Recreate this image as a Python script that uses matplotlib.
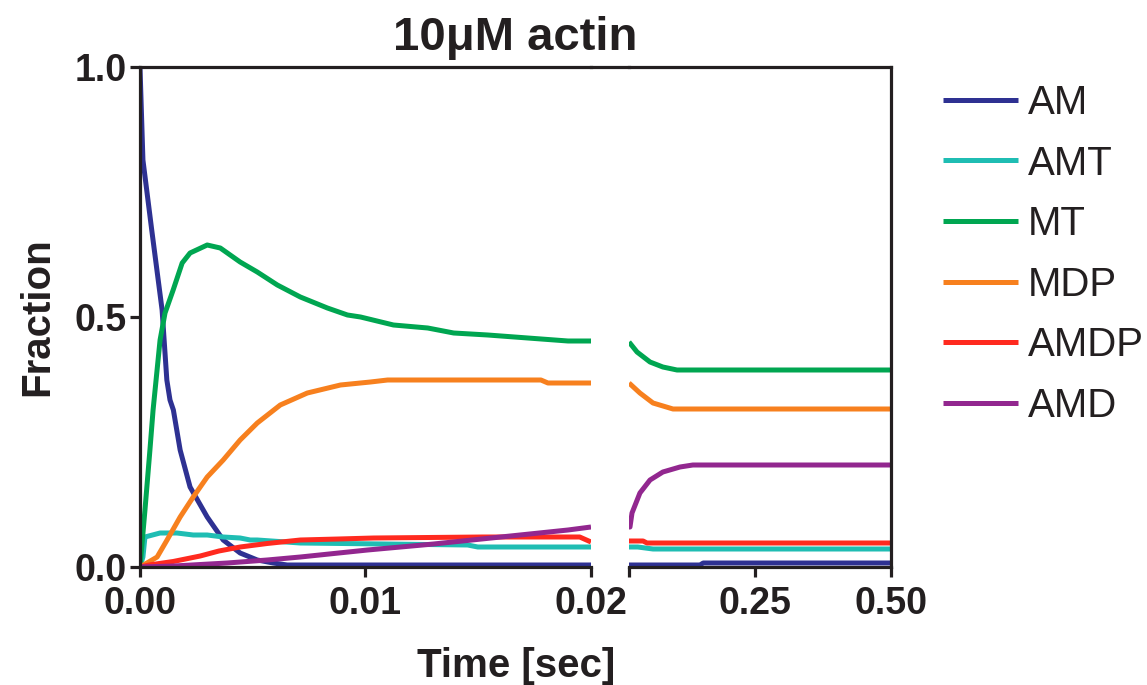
import matplotlib
matplotlib.use("Agg")
import matplotlib.pyplot as plt
from matplotlib.lines import Line2D

plt.rcParams['font.family'] = ['Liberation Sans', 'DejaVu Sans']

# ---------------- data ----------------
series_names = ["AM", "AMT", "MT", "MDP", "AMDP", "AMD"]
series_colors = ["#2E3192", "#1FBDB3", "#00A651", "#F7801E", "#FF2A1F", "#92278F"]

# left segment (0 - 0.02 s)
am_t_left = [0, 0.00013, 0.00052, 0.00098, 0.00119, 0.00133, 0.00148, 0.00178, 0.00222,
             0.00298, 0.00369, 0.00444, 0.00520, 0.00591, 0.00653, 0.0200]
am_v_left = [1.0, 0.814, 0.674, 0.514, 0.374, 0.334, 0.314, 0.234, 0.160,
             0.100, 0.054, 0.028, 0.014, 0.008, 0.004, 0.004]

amt_t_left = [0, 0.00013, 0.00022, 0.00089, 0.00164, 0.00236, 0.00298, 0.00369, 0.00444,
              0.00489, 0.00520, 0.00711, 0.01453, 0.01498, 0.0200]
amt_v_left = [0, 0.02, 0.06, 0.068, 0.068, 0.064, 0.064, 0.060, 0.058,
              0.054, 0.054, 0.048, 0.044, 0.040, 0.040]

mt_t_left = [0, 0.00022, 0.00044, 0.00058, 0.00089, 0.00111, 0.00147, 0.00187, 0.00222,
             0.00298, 0.00356, 0.00444, 0.00520, 0.00609, 0.00711, 0.00831, 0.00920,
             0.00978, 0.01124, 0.01276, 0.01391, 0.01542, 0.01720, 0.01898, 0.0200]
mt_v_left = [0, 0.114, 0.234, 0.314, 0.454, 0.508, 0.554, 0.608, 0.628,
             0.644, 0.638, 0.610, 0.590, 0.564, 0.540, 0.518, 0.504,
             0.500, 0.484, 0.478, 0.468, 0.464, 0.458, 0.452, 0.452]

mdp_t_left = [0, 0.00031, 0.00076, 0.00120, 0.00178, 0.00236, 0.00298, 0.00369, 0.00444,
              0.00520, 0.00622, 0.00742, 0.00889, 0.01022, 0.01098, 0.01778, 0.01809, 0.0200]
mdp_v_left = [0, 0.008, 0.020, 0.054, 0.100, 0.140, 0.180, 0.214, 0.254,
              0.288, 0.324, 0.348, 0.364, 0.370, 0.374, 0.374, 0.368, 0.368]

amdp_t_left = [0, 0.0004, 0.00147, 0.00267, 0.0035, 0.00444, 0.00564, 0.00711, 0.0088,
               0.01036, 0.0152, 0.0195, 0.0200]
amdp_v_left = [0, 0.004, 0.011, 0.022, 0.032, 0.040, 0.047, 0.054, 0.056,
               0.058, 0.060, 0.060, 0.050]

amd_t_left = [0, 0.0015, 0.00387, 0.00564, 0.00711, 0.01009, 0.01302, 0.0160, 0.01898, 0.0200]
amd_v_left = [0, 0.002, 0.008, 0.014, 0.020, 0.034, 0.046, 0.060, 0.074, 0.080]

# right segment (0.02 - 0.5 s)
am_t_right = [0.02, 0.150, 0.156, 0.5]
am_v_right = [0.004, 0.004, 0.008, 0.008]

amt_t_right = [0.02, 0.036, 0.064, 0.5]
amt_v_right = [0.040, 0.040, 0.036, 0.036]

mt_t_right = [0.02, 0.0347, 0.0585, 0.082, 0.108, 0.5]
mt_v_right = [0.450, 0.430, 0.410, 0.400, 0.394, 0.394]

mdp_t_right = [0.02, 0.040, 0.064, 0.1006, 0.5]
mdp_v_right = [0.368, 0.348, 0.328, 0.316, 0.316]

amdp_t_right = [0.02, 0.0457, 0.053, 0.5]
amdp_v_right = [0.052, 0.052, 0.048, 0.048]

amd_t_right = [0.02, 0.0218, 0.0255, 0.040, 0.0585, 0.082, 0.1134, 0.137, 0.5]
amd_v_right = [0.080, 0.080, 0.108, 0.148, 0.174, 0.190, 0.200, 0.204, 0.204]

left_ticks = [0, 0.01, 0.02]
left_ticklabels = ["0.00", "0.01", "0.02"]
right_ticks = [0.02, 0.25, 0.5]
right_ticklabels = ["", "0.25", "0.50"]
y_ticks = [0, 0.5, 1.0]
y_ticklabels = ["0.0", "0.5", "1.0"]

title = "10μM actin"
xlabel = "Time [sec]"
ylabel = "Fraction"

left_data = [(am_t_left, am_v_left), (amt_t_left, amt_v_left), (mt_t_left, mt_v_left),
             (mdp_t_left, mdp_v_left), (amdp_t_left, amdp_v_left), (amd_t_left, amd_v_left)]
right_data = [(am_t_right, am_v_right), (amt_t_right, amt_v_right), (mt_t_right, mt_v_right),
              (mdp_t_right, mdp_v_right), (amdp_t_right, amdp_v_right), (amd_t_right, amd_v_right)]

# ---------------- figure ----------------
W, H = 1147, 685
fig = plt.figure(figsize=(W / 100, H / 100), dpi=100)
ink = "#231F20"
spine_lw = 2.3
line_lw = 3.6

bottom = (H - 567) / H
height = 500 / H
axL = fig.add_axes([140 / W, bottom, 451 / W, height])
axR = fig.add_axes([629 / W, bottom, 262 / W, height])

for (t, v), c, n in zip(left_data, series_colors, series_names):
    axL.plot(t, v, color=c, lw=line_lw, label=n, solid_capstyle='butt', solid_joinstyle='round')
for (t, v), c in zip(right_data, series_colors):
    axR.plot(t, v, color=c, lw=line_lw, solid_capstyle='butt', solid_joinstyle='round')

axL.set_xlim(0, 0.02)
axR.set_xlim(0.02, 0.5)
for ax in (axL, axR):
    ax.set_ylim(0, 1.0)
    for s in ax.spines.values():
        s.set_linewidth(spine_lw)
        s.set_color(ink)
        s.set_capstyle('projecting')
    ax.tick_params(direction='out', length=7.5, width=spine_lw, color=ink,
                   labelsize=27, labelcolor=ink)

axL.spines['right'].set_visible(False)
axR.spines['left'].set_visible(False)

axL.set_xticks(left_ticks)
axL.set_xticklabels(left_ticklabels, fontweight='bold')
axL.set_yticks(y_ticks)
axL.set_yticklabels(y_ticklabels, fontweight='bold')
axL.tick_params(axis='x', pad=6)
axL.tick_params(axis='y', pad=2)

axR.set_xticks(right_ticks)
axR.set_xticklabels(right_ticklabels, fontweight='bold')
axR.tick_params(axis='x', pad=6)
axR.tick_params(axis='y', left=False, labelleft=False)

# top frame line bridging the gap
top_y = bottom + height
fig.add_artist(Line2D([591 / W, 629 / W], [top_y, top_y], transform=fig.transFigure,
                      lw=spine_lw, color=ink, solid_capstyle='projecting'))

fig.text(515 / W, (H - 50) / H, title, ha='center', va='baseline',
         fontsize=34, fontweight='bold', color=ink)
fig.text(516 / W, (H - 677) / H, xlabel, ha='center', va='baseline',
         fontsize=29, fontweight='bold', color=ink)
fig.text(48 / W, (H - 317) / H, ylabel, ha='center', va='baseline', rotation=90,
         rotation_mode='anchor', fontsize=29, fontweight='bold', color=ink)

handles, labels = axL.get_legend_handles_labels()
leg = fig.legend(handles, labels, loc='upper left',
                 bbox_to_anchor=(943 / W, (H - 84) / H), bbox_transform=fig.transFigure,
                 frameon=False, fontsize=29, handlelength=1.85, handletextpad=0.25,
                 labelspacing=0.56, borderpad=0, borderaxespad=0)
for txt in leg.get_texts():
    txt.set_color(ink)

fig.savefig("out.png", dpi=100)
